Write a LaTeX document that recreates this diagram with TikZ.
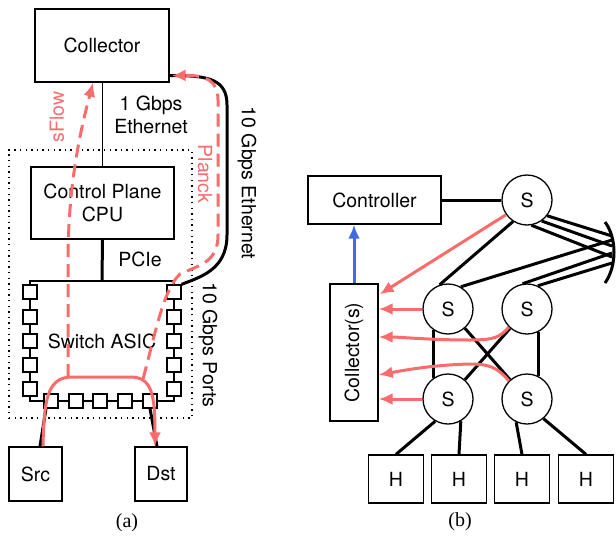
\documentclass[tikz,border=0pt]{standalone}
\usepackage{fontspec}
\setmainfont{TeX Gyre Heros}
\newfontfamily\capfont{Liberation Serif}
\usetikzlibrary{arrows.meta,calc}
\definecolor{myred}{RGB}{250,108,108}
\definecolor{myblue}{RGB}{66,106,228}
\begin{document}
\begin{tikzpicture}[x=1pt,y=-1pt,
  font=\fontsize{19.5}{23}\selectfont,
  box/.style={draw,line width=1.3pt,fill=white,inner sep=0pt},
  port/.style={draw,line width=1.3pt,fill=white,minimum size=14pt,inner sep=0pt},
  sw/.style={draw,circle,line width=1.3pt,fill=white,minimum size=50pt,inner sep=0pt},
  thinline/.style={line width=1.3pt},
  heavyline/.style={line width=3pt},
  redline/.style={myred,line width=3pt},
  reddash/.style={myred,line width=3pt,dash pattern=on 13pt off 7pt},
  rtip/.style={-{Latex[length=14pt,width=12pt]}},
  lbl/.style={inner sep=0pt,align=center},
  caption/.style={inner sep=0pt,font=\capfont\fontsize{20}{24}\selectfont}
]
\useasboundingbox (0,0) rectangle (616,536);

% ---------------- panel (a) ----------------
\node[draw,line width=1.2pt,dash pattern=on 1.4pt off 4.2pt,minimum width=183pt,minimum height=268pt,inner sep=0pt] (board) at (100.5,284) {};
\node[box,minimum width=134pt,minimum height=73pt] (coll) at (102,45.5) {Collector};
\node[box,minimum width=143pt,minimum height=72pt,align=center] (cpu) at (102.5,203) {Control Plane\\CPU};
\node[draw,line width=1.3pt,minimum width=144pt,minimum height=120pt,inner sep=0pt] (asic) at (102,341) {Switch ASIC};
\foreach \i/\y in {1/292,2/317,3/341,4/365,5/389}{
  \node[port] (l\i) at (30,\y) {};
  \node[port] (r\i) at (174,\y) {};
}
\foreach \i/\x in {1/51,2/76,3/100,4/125,5/150}{
  \node[port] (b\i) at (\x,401) {};
}
\node[box,minimum width=53pt,minimum height=54pt] (src) at (35.5,474) {Src};
\node[box,minimum width=52pt,minimum height=54pt] (dst) at (161,474) {Dst};

\draw[thinline] (coll.south -| cpu.north) -- (cpu.north);
\draw[heavyline] (cpu.south) -- (asic.north);
\draw[heavyline] ($(src.north)+(4.5,0)$) -- ($(b1.south)+(-5,0)$);
\draw[heavyline] ($(dst.north)+(-4,0)$) -- (b5.south);

\node[lbl] (gbe) at (151,114.5) {1 Gbps\\Ethernet};
\node[lbl] (pcie) at (140,259) {PCIe};

% 10 Gbps Ethernet uplink
\draw[heavyline] (r1.north east) .. controls (200,277) and (227,270) .. (227,235)
  -- (227,105) .. controls (227,80) and (210,75) .. ($(coll.south east)+(0,-7)$);

% red flows
\draw[redline,rtip] ($(src.north)+(7.5,0)$) .. controls (44,400) and (47,377) .. (72,377)
  -- (132,377) .. controls (152,378) and (155,395) .. ($(dst.north)+(-6,0)$);
\draw[reddash,rtip] (68,377) -- (68,262) .. controls (68,180) and (82,125) .. ($(coll.south)+(-9,0)$);
\draw[reddash,rtip] (143,379) .. controls (155,335) and (163,290) .. (180,274)
  .. controls (200,265) and (218,262) .. (218,235) -- (218,100)
  .. controls (218,80) and (205,75) .. ($(coll.south east)+(2,-7)$);

\node[lbl,rotate=90,text=myred] (sflow) at (57,117) {sFlow};
\node[lbl,rotate=-90,text=myred] (planck) at (205,174) {Planck};
\node[lbl,rotate=-90] (tge) at (247,183) {10 Gbps Ethernet};
\node[lbl,rotate=-90] (tgp) at (208,345) {10 Gbps Ports};
\node[caption] (capa) at (127,523) {(a)};

% ---------------- panel (b) ----------------
\node[box,minimum width=133pt,minimum height=48pt] (ctrl) at (374.5,200) {Controller};
\node[box,minimum width=48pt,minimum height=137pt] (cols) at (354,352.5) {\rotatebox{90}{Collector(s)}};
\node[sw] (stop) at (527,200) {S};
\node[sw] (sml) at (448,309) {S};
\node[sw] (smr) at (527,309) {S};
\node[sw] (sbl) at (448,399) {S};
\node[sw] (sbr) at (527,399) {S};
\foreach \i/\x in {1/396,2/459,3/522,4/586}{
  \node[box,minimum width=55pt,minimum height=48pt] (h\i) at (\x,479) {H};
}

\coordinate (a1) at (612,236);
\coordinate (a2) at (612,246);
\coordinate (a3) at (612,257);
\coordinate (a4) at (612,240);
\coordinate (a5) at (612,253);
\coordinate (a6) at (612,263);

\draw[heavyline] (ctrl.east) -- (stop.west);
\draw[heavyline] (stop.237) -- (sml.109);
\draw[heavyline] (stop.-38) -- (a1);
\draw[heavyline] (stop.-55) -- (a2);
\draw[heavyline] (stop.-80) -- (a3);
\draw[heavyline] (sml.60) -- (a4);
\draw[heavyline] (smr.100) -- (a5);
\draw[heavyline] (smr.65) -- (a6);
\draw[heavyline] (605,222) .. controls (617,238) and (617,266) .. (605,283);
\draw[heavyline] (sml.236) -- (sbl.124);
\draw[heavyline] (smr.-64) -- (sbr.64);
\draw[heavyline] (sml) -- (sbr);
\draw[heavyline] (smr) -- (sbl);
\draw[heavyline] (sbl.-120) -- (h1.north);
\draw[heavyline] (sbl.-60) -- (h2.north);
\draw[heavyline] (sbr.-115) -- (h3.north);
\draw[heavyline] (sbr.-50) -- (h4.north);

\draw[myblue,line width=3pt,-{Latex[length=14pt,width=12pt]}] (cols.north) -- (cols.north |- ctrl.south);

\draw[redline,rtip] (stop.215) -- ($(cols.north east)+(1,11)$);
\draw[redline,rtip] (sml.west) -- (sml.west -| cols.east);
\draw[redline,rtip] (smr.225) .. controls (500,337) and (495,340) .. (470,340)
  .. controls (430,340) and (400,337) .. ($(cols.east)+(0,-15.5)$);
\draw[redline,rtip] (sbr.135) .. controls (498,368) and (490,364) .. (470,364)
  .. controls (430,365) and (400,371) .. ($(cols.east)+(0,22.5)$);
\draw[redline,rtip] (sbl.west) -- (sbl.west -| cols.east);

\node[caption] (capb) at (460,522) {(b)};
\end{tikzpicture}
\end{document}
